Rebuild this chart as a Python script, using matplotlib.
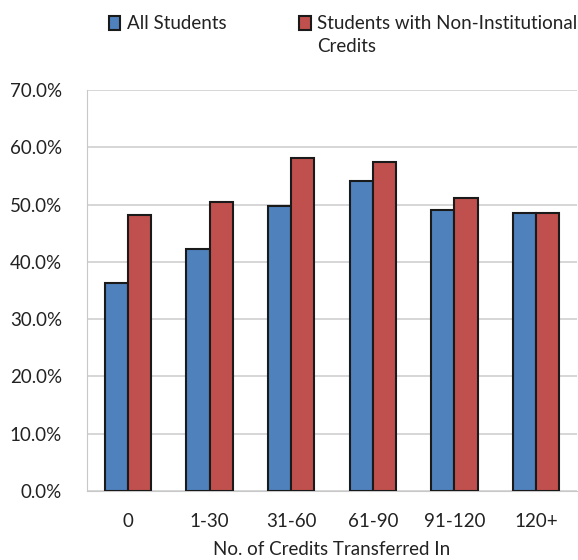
import matplotlib.pyplot as plt
import numpy as np
from matplotlib.ticker import PercentFormatter

plt.rcParams['font.family'] = ['Lato', 'DejaVu Sans']

# Data
categories = ['0', '1-30', '31-60', '61-90', '91-120', '120+']
all_students = [36.3, 42.3, 49.7, 54.2, 49.0, 48.6]
non_institutional = [48.2, 50.4, 58.2, 57.5, 51.2, 48.6]

fig = plt.figure(figsize=(5.78, 5.6), dpi=100)
ax = fig.add_axes([87 / 578, 69 / 560, 490 / 578, 401 / 560])

x = np.arange(len(categories))
w = 0.285
ax.bar(x - w / 2, all_students, w, color='#4f81bd', edgecolor='#1a1a1a',
       linewidth=1.5, label='All Students', zorder=3)
ax.bar(x + w / 2, non_institutional, w, color='#c0504d', edgecolor='#1a1a1a',
       linewidth=1.5, label='Students with Non-Institutional', zorder=3)

ax.set_ylim(0, 70)
ax.set_xlim(-0.5, len(categories) - 0.5)
ax.set_yticks(np.arange(0, 71, 10))
ax.yaxis.set_major_formatter(PercentFormatter(decimals=1))
ax.set_xticks(x)
ax.set_xticklabels(categories)
ax.tick_params(axis='both', length=0, labelsize=13.5, colors='#222222')
ax.tick_params(axis='y', pad=18)
ax.tick_params(axis='x', pad=16)
ax.grid(axis='y', color='#d0d0d0', linewidth=1.2, zorder=0)

for side in ['top', 'right']:
    ax.spines[side].set_visible(False)
ax.spines['left'].set_color('#c8c8c8')
ax.spines['bottom'].set_color('#c8c8c8')

ax.set_xlabel('No. of Credits Transferred In', fontsize=13.5, color='#222222', labelpad=8)

leg = fig.legend(loc='upper left', bbox_to_anchor=(92 / 578, 1.003), ncol=2, frameon=False,
                 fontsize=13.5, handlelength=0.6, handleheight=0.8, handletextpad=0.35,
                 columnspacing=3.9)

# second line of the red legend label, lined up under the first
fig.canvas.draw()
bb = leg.get_texts()[1].get_window_extent().transformed(fig.transFigure.inverted())
fig.text(bb.x0, bb.y0 - 23 / 560, 'Credits', fontsize=13.5, color='#222222',
         ha='left', va='bottom')
for t in leg.get_texts():
    t.set_color('#222222')

plt.savefig('out.png', dpi=100)
